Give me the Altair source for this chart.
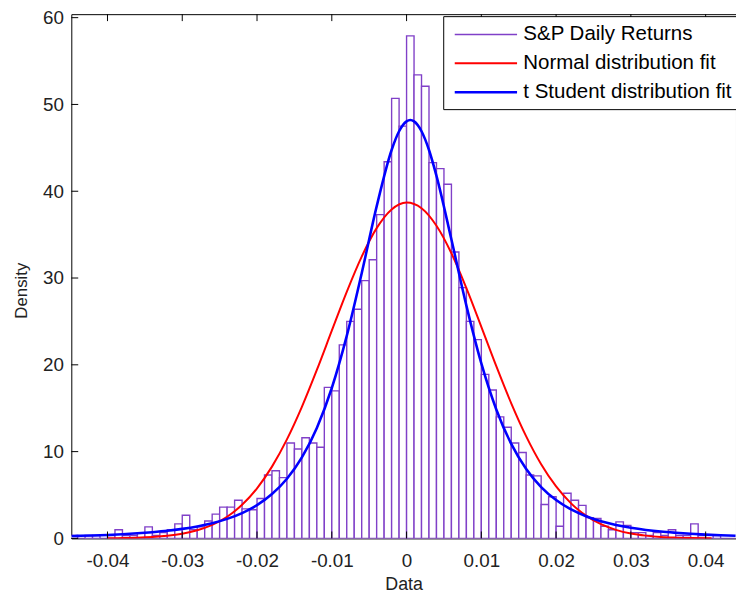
import altair as alt
import pandas as pd

# ---------------- data ----------------
series_names = ["S&P Daily Returns", "Normal distribution fit", "t Student distribution fit"]
series_colors = ["#8040c8", "#ff0000", "#0000ff"]
series_widths = [1.4, 2.6, 3.0]

# histogram: bin index k covers [k*0.001, (k+1)*0.001]
bin_index = list(range(-45, 44))
bin_density = [
    0.33, 0.0, 0.33, 0.33, 0.0, 0.33, 1.0, 0.33, 0.33, 0.67,      # -45 .. -36
    1.33, 0.33, 0.67, 1.0, 1.67, 2.67, 1.0, 1.33, 2.0, 2.8,       # -35 .. -26
    3.6, 3.6, 4.4, 3.4, 3.3, 4.6, 7.3, 7.8, 7.0, 11.0,            # -25 .. -16
    10.3, 11.6, 11.0, 10.5, 17.4, 17.0, 22.3, 25.0, 26.4, 29.7,   # -15 .. -6
    32.1, 37.3, 43.4, 50.7, 47.5,                                  # -5 .. -1
    57.9, 53.4, 52.1, 43.3, 42.6, 40.8, 33.0, 28.9, 25.0, 22.9,   # 0 .. 9
    18.9, 17.1, 14.0, 12.8, 11.0, 9.9, 7.3, 7.2, 3.9, 4.8,        # 10 .. 19
    1.4, 5.2, 4.4, 3.8, 2.4, 2.3, 1.4, 1.0, 1.9, 1.5,             # 20 .. 29
    0.67, 0.67, 0.33, 0.67, 0.33, 1.0, 0.33, 0.33, 1.67, 0.33,    # 30 .. 39
    0.0, 0.33, 0.0, 0.0,                                           # 40 .. 43
]
bin_width = 0.001

normal_x = [-0.040, -0.038, -0.036, -0.034, -0.032, -0.030, -0.028, -0.026, -0.024, -0.022,
            -0.020, -0.018, -0.016, -0.014, -0.012, -0.010, -0.008, -0.006, -0.004, -0.002,
            0.000, 0.002, 0.004, 0.006, 0.008, 0.010, 0.012, 0.014, 0.016, 0.018,
            0.020, 0.022, 0.024, 0.026, 0.028, 0.030, 0.032, 0.034, 0.036, 0.038, 0.0408]
normal_y = [0.02, 0.04, 0.08, 0.16, 0.30, 0.54, 0.94, 1.56, 2.50, 3.87,
            5.77, 8.27, 11.41, 15.16, 19.41, 23.93, 28.41, 32.47, 35.75, 37.90,
            38.70, 38.04, 36.02, 32.85, 28.84, 24.38, 19.85, 15.57, 11.76, 8.55,
            5.99, 4.04, 2.62, 1.64, 0.99, 0.57, 0.32, 0.17, 0.09, 0.04, 0.02]

tstudent_x = [-0.0448, -0.044, -0.042, -0.040, -0.038, -0.036, -0.034, -0.032, -0.030, -0.028,
              -0.026, -0.024, -0.022, -0.020, -0.018, -0.016, -0.014, -0.012, -0.010, -0.008,
              -0.006, -0.004, -0.002, -0.001, 0.000, 0.0005, 0.001, 0.002, 0.003, 0.004,
              0.006, 0.008, 0.010, 0.012, 0.014, 0.016, 0.018, 0.020, 0.022, 0.024,
              0.026, 0.028, 0.030, 0.032, 0.034, 0.036, 0.038, 0.040, 0.042, 0.044]
tstudent_y = [0.27, 0.29, 0.34, 0.40, 0.48, 0.59, 0.72, 0.88, 1.10, 1.38,
              1.75, 2.25, 2.92, 3.84, 5.11, 6.87, 9.33, 12.73, 17.33, 23.33,
              30.56, 38.25, 44.75, 46.91, 48.05, 48.20, 48.05, 46.91, 44.75, 41.77,
              34.43, 26.82, 20.16, 14.86, 10.89, 8.00, 5.92, 4.42, 3.34, 2.56,
              1.98, 1.55, 1.23, 0.98, 0.79, 0.65, 0.53, 0.44, 0.37, 0.31]

x_tick_values = [-0.04, -0.03, -0.02, -0.01, 0.0, 0.01, 0.02, 0.03, 0.04]
y_tick_values = [0, 10, 20, 30, 40, 50, 60]

# ---------------- tables ----------------
bars_df = pd.DataFrame({
    "x0": [k * bin_width for k in bin_index],
    "x1": [(k + 1) * bin_width for k in bin_index],
    "y": bin_density,
    "series": series_names[0],
})
normal_df = pd.DataFrame({"x0": normal_x, "y": normal_y, "series": series_names[1]})
t_df = pd.DataFrame({"x0": tstudent_x, "y": tstudent_y, "series": series_names[2]})
xt_df = pd.DataFrame({"x0": x_tick_values})
yt_df = pd.DataFrame({"y": y_tick_values})

W, H = 672, 530
FONT = "Liberation Sans"

xscale = alt.Scale(domain=[-0.04484, 0.04406], nice=False, zero=False)
yscale = alt.Scale(domain=[0, 60.4], nice=False, zero=False)
cscale = alt.Scale(domain=series_names, range=series_colors)
wscale = alt.Scale(domain=series_names, range=series_widths)

legend = alt.Legend(
    title=None, orient="none", legendX=376, legendY=2,
    fillColor="white", strokeColor="black", padding=7,
    symbolType="M-0.7,0H5.3", symbolSize=441, labelFont=FONT, labelFontSize=20.7,
    labelColor="black", labelOffset=50, rowPadding=7, labelLimit=0,
)

xaxis = alt.Axis(values=x_tick_values, ticks=False, domain=False, grid=False,
                 labelFont=FONT, labelFontSize=19, labelColor="#222222", labelPadding=13,
                 labelExpr="datum.value == 0 ? '0' : (datum.value < 0 ? '-' : '') + format(abs(datum.value), '.2f')",
                 title="Data", titleFont=FONT, titleFontSize=18, titleFontWeight="normal",
                 titleColor="#222222", titleY=52, titleBaseline="alphabetic")
yaxis = alt.Axis(values=y_tick_values, ticks=False, domain=False, grid=False,
                 labelFont=FONT, labelFontSize=19, labelColor="#222222", labelPadding=8,
                 title="Density", titleFont=FONT, titleFontSize=17, titleFontWeight="normal",
                 titleColor="#222222", titleX=-50, titleY=H / 2 + 14, titleBaseline="middle")

X = alt.X("x0:Q", scale=xscale, axis=xaxis)
Y = alt.Y("y:Q", scale=yscale, axis=yaxis)

bars = alt.Chart(bars_df).mark_rect(fill="white", clip=True).encode(
    x=X, x2="x1:Q", y=Y, y2=alt.datum(0),
    stroke=alt.Stroke("series:N", scale=cscale, legend=legend),
    strokeWidth=alt.StrokeWidth("series:N", scale=wscale, legend=legend),
)

def curve(df):
    return alt.Chart(df).mark_line(clip=True, interpolate="monotone").encode(
        x=X, y=Y,
        stroke=alt.Stroke("series:N", scale=cscale, legend=legend),
        strokeWidth=alt.StrokeWidth("series:N", scale=wscale, legend=legend),
    )

tick_bottom = alt.Chart(xt_df).mark_rule(color="black", strokeWidth=1).encode(
    x=X, y=alt.value(H), y2=alt.value(H - 7))
tick_top = alt.Chart(xt_df).mark_rule(color="black", strokeWidth=1).encode(
    x=X, y=alt.value(0), y2=alt.value(7))
tick_left = alt.Chart(yt_df).mark_rule(color="black", strokeWidth=1).encode(
    y=Y, x=alt.value(0), x2=alt.value(7))

chart = alt.layer(bars, curve(normal_df), curve(t_df), tick_bottom, tick_top, tick_left).properties(
    width=W, height=H,
    autosize=alt.AutoSizeParams(type="none"),
    padding={"left": 64, "top": 3, "right": 0, "bottom": 57},
    background="white",
).configure_view(stroke="black", strokeWidth=1)

chart.save("out.html", embed_options={"renderer": "svg", "actions": False})
